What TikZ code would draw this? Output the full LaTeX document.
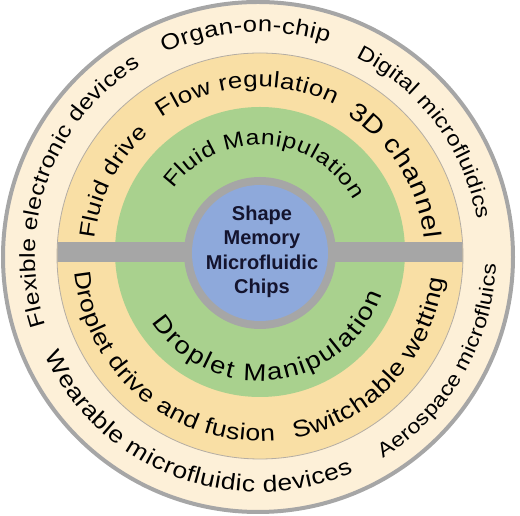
\documentclass[tikz,border=0pt]{standalone}
\usepackage{fontspec}
\setmainfont{Liberation Sans}
\newfontfamily\wide[FakeStretch=1.15]{Liberation Sans}
\usetikzlibrary{decorations.text}
\definecolor{ringcream}{HTML}{FDF0D8}
\definecolor{ringtan}{HTML}{F9DFA5}
\definecolor{ringgreen}{HTML}{A9D18E}
\definecolor{coreblue}{HTML}{8EA9DB}
\definecolor{ringgray}{HTML}{A6A6A6}
\definecolor{ringline}{HTML}{B4ADA4}
\definecolor{coretext}{HTML}{14142E}
\newcommand\fs[1]{\wide\fontsize{#1}{#1}\selectfont}
\tikzset{
  arctxt/.style={decorate,decoration={text along path,text align={fit to path},text={#1}}},
  coretxt/.style={align=center,text=coretext,font=\bfseries\fontsize{20}{24.5}\selectfont,inner sep=0pt}
}
\begin{document}
\begin{tikzpicture}[x=1pt,y=1pt]
\useasboundingbox (0,0) rectangle (520,516);
\coordinate (co) at (258,259);
\coordinate (ct) at (260,260);
\coordinate (cg) at (260,264);
\coordinate (ci) at (260,263);
% rings
\fill[ringcream,draw=ringgray,line width=4pt] (co) circle[radius=255];
\fill[ringtan,draw=ringline,line width=0.8pt] (ct) circle[radius=203];
\fill[ringgreen] (cg) circle[radius=145];
\begin{scope}
  \clip (ct) circle[radius=202.6];
  \fill[ringgray] (0,254) rectangle (520,274);
\end{scope}
\fill[ringgray] (ci) circle[radius=76];
\fill[coreblue] (ci) circle[radius=68];
\node[coretxt] (core) at (262,264) {Shape\\Memory\\Microfluidic\\Chips};
% outer ring texts
\begin{scope}[shift={(259,260)}]
  \path[arctxt={|\fs{21.5}|Flexible electronic devices}] (198:224) arc[start angle=198,end angle=122,radius=224];
  \path[arctxt={|\fs{22.2}|Organ-on-chip}] (115:224) arc[start angle=115,end angle=72,radius=224];
  \path[arctxt={|\fs{20.7}|Digital microfluidics}] (64:221) arc[start angle=64,end angle=9.5,radius=221];
  \path[arctxt={|\fs{20.2}|Aerospace microfluics}] (-58.5:237) arc[start angle=-58.5,end angle=-2,radius=237];
  \path[arctxt={|\fs{23}|Wearable microfluidic devices}] (205:236) arc[start angle=205,end angle=293.5,radius=236];
  % tan ring texts
  \path[arctxt={|\fs{22}|Fluid drive}] (174:165) arc[start angle=174,end angle=132,radius=165];
  \path[arctxt={|\fs{22.5}|Flow regulation}] (125:169) arc[start angle=125,end angle=63.5,radius=169];
  \path[arctxt={|\fs{25}|3D channel}] (58:166) arc[start angle=58,end angle=6,radius=166];
  \path[arctxt={|\fs{23}|Droplet drive and fusion}] (185:185) arc[start angle=185,end angle=275,radius=185];
  \path[arctxt={|\fs{23.5}|Switchable wetting}] (281:186) arc[start angle=281,end angle=353,radius=186];
\end{scope}
% green ring texts
\begin{scope}[shift={(260,264)}]
  \path[arctxt={|\fs{21.5}|Fluid  Manipulation}] (144:107) arc[start angle=144,end angle=29,radius=107];
  \path[arctxt={|\fs{24}|Droplet  Manipulation}] (213:129) arc[start angle=213,end angle=341,radius=129];
\end{scope}
\end{tikzpicture}
\end{document}
